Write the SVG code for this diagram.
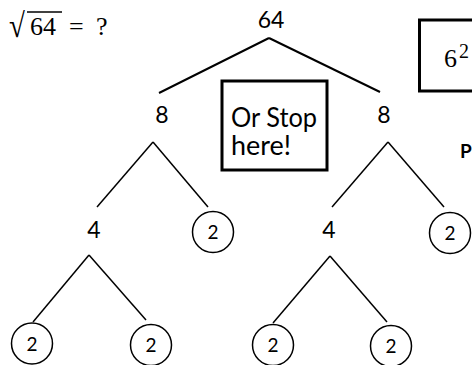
<svg xmlns="http://www.w3.org/2000/svg" width="472" height="365" viewBox="0 0 472 365">
<style>
.t{font-family:Lato,"Liberation Sans",sans-serif;fill:#000;text-anchor:middle}
.n{font-size:23px}
.c{font-size:19px}
.b{font-size:27px;text-anchor:start}
.m{font-family:"Liberation Serif","DejaVu Serif",serif;fill:#000}
.e{stroke:#000;fill:none}
circle{fill:#fff;stroke:#000;stroke-width:1.5}
.box{fill:#fff;stroke:#000;stroke-width:3}
</style>
<rect width="472" height="365" fill="#fff"/>
<g id="equation">
<text class="m" x="9" y="37" font-size="34" transform="translate(9 37) scale(0.85 1) translate(-9 -37)">√</text>
<line x1="27" y1="12" x2="62" y2="12" stroke="#000" stroke-width="1.5"/>
<text class="m" x="30" y="35" font-size="26">64</text>
<text class="m" x="69" y="35" font-size="26">=</text>
<text class="m" x="96" y="35" font-size="26">?</text>
</g>
<g id="connectors">
<line class="e" stroke-width="2" x1="269" y1="38" x2="159" y2="93"/>
<line class="e" stroke-width="2" x1="269" y1="38" x2="380" y2="92"/>
<line class="e" stroke-width="1.5" x1="153" y1="142" x2="97" y2="207"/>
<line class="e" stroke-width="1.5" x1="153" y1="142" x2="208" y2="207"/>
<line class="e" stroke-width="1.5" x1="388" y1="142" x2="332" y2="207"/>
<line class="e" stroke-width="1.5" x1="388" y1="142" x2="444" y2="207"/>
<line class="e" stroke-width="1.5" x1="89" y1="255" x2="33" y2="322"/>
<line class="e" stroke-width="1.5" x1="89" y1="255" x2="146" y2="320"/>
<line class="e" stroke-width="1.5" x1="330" y1="256" x2="273" y2="323"/>
<line class="e" stroke-width="1.5" x1="330" y1="256" x2="387" y2="322"/>
</g>
<g id="n64"><text class="t n" x="271" y="28">64</text></g>
<g id="n8a"><text class="t n" x="162" y="123">8</text></g>
<g id="n8b"><text class="t n" x="384" y="123">8</text></g>
<g id="n4a"><text class="t n" x="94" y="238">4</text></g>
<g id="n4b"><text class="t n" x="329" y="238">4</text></g>
<g id="n2a"><circle cx="213" cy="232" r="20.5"/><text class="t c" x="213" y="239">2</text></g>
<g id="n2b"><circle cx="450" cy="233" r="20.5"/><text class="t c" x="450" y="240">2</text></g>
<g id="n2c"><circle cx="32" cy="343.5" r="20.5"/><text class="t c" x="32" y="350.5">2</text></g>
<g id="n2d"><circle cx="151" cy="345" r="20.5"/><text class="t c" x="151" y="352">2</text></g>
<g id="n2e"><circle cx="273" cy="345" r="20.5"/><text class="t c" x="273" y="352">2</text></g>
<g id="n2f"><circle cx="391" cy="346" r="20.5"/><text class="t c" x="391" y="353">2</text></g>
<g id="stopbox">
<rect class="box" x="222" y="81" width="105" height="89"/>
<text class="t b" x="231" y="127" textLength="86" lengthAdjust="spacingAndGlyphs">Or Stop</text>
<text class="t b" x="231" y="155" textLength="60" lengthAdjust="spacingAndGlyphs">here!</text>
</g>
<g id="squarebox">
<rect class="box" x="419.5" y="20" width="60" height="71"/>
<text class="m" x="444" y="67" font-size="26">6</text>
<text class="m" x="459" y="58" font-size="20">2</text>
</g>
<g id="label-p">
<text x="460" y="158" font-family="Lato,'Liberation Sans',sans-serif" font-weight="bold" font-size="19">P</text>
</g>
</svg>
